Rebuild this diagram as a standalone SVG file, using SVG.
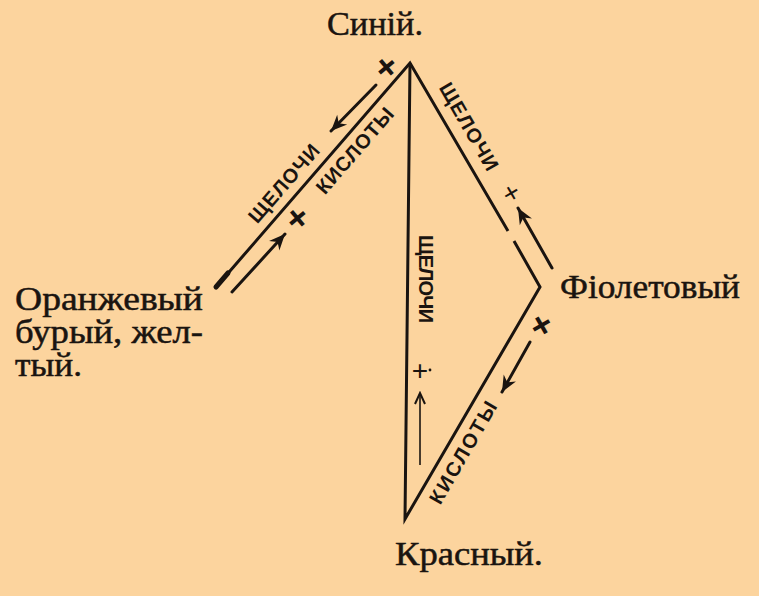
<svg xmlns="http://www.w3.org/2000/svg" width="759" height="596" viewBox="0 0 759 596">
<style>
.lbl{font-family:"Liberation Serif","DejaVu Serif",serif;font-size:33px;fill:#1a1410;stroke:#1a1410;stroke-width:0.5}
.rot{font-family:"Liberation Sans","DejaVu Sans",sans-serif;font-size:20px;font-weight:bold;fill:#1a1410;text-anchor:middle}
.plus{font-family:"Liberation Sans","DejaVu Sans",sans-serif;font-size:36px;font-weight:bold;fill:#1a1410;text-anchor:middle;dominant-baseline:central}
.plusthin{font-family:"Liberation Sans","DejaVu Sans",sans-serif;font-size:28px;fill:#1a1410;text-anchor:middle;dominant-baseline:central}
.edge{fill:none;stroke:#1a1410;stroke-width:3;stroke-linejoin:miter;stroke-miterlimit:10}
.arr{fill:none;stroke:#1a1410;stroke-width:3;stroke-linecap:round;marker-end:url(#head)}
.arrthin{fill:none;stroke:#1a1410;stroke-width:1.6;marker-end:url(#headthin)}
</style>
<defs>
<marker id="head" viewBox="-1 -8 19 16" refX="16" refY="0" markerWidth="19" markerHeight="16" markerUnits="userSpaceOnUse" orient="auto">
<path d="M0,-7 L16,0 L0,7 L5,0 Z" fill="#1a1410"/>
</marker>
<marker id="headthin" viewBox="-1 -7 14 14" refX="11" refY="0" markerWidth="14" markerHeight="14" markerUnits="userSpaceOnUse" orient="auto">
<path d="M0,-5 L11,0 L0,5" fill="none" stroke="#1a1410" stroke-width="2"/>
</marker>
</defs>
<rect width="759" height="596" fill="#FCD49E"/>
<g id="connectors">
<path class="edge" d="M217,286 L410,63 L508,231"/>
<path class="edge" d="M514,241 L540,287 L405,519 L410,63"/>
<line x1="216" y1="287" x2="228" y2="273" stroke="#1a1410" stroke-width="5" stroke-linecap="round"/>
<line class="arr" x1="376" y1="85" x2="331" y2="131"/>
<line class="arr" x1="232" y1="292" x2="285" y2="234"/>
<line class="arr" x1="552" y1="268" x2="518" y2="208"/>
<line class="arr" x1="530" y1="342" x2="502" y2="392"/>
<line class="arrthin" x1="420" y1="465" x2="420" y2="393"/>
<text class="rot" transform="translate(289,188) rotate(-49)" textLength="97" lengthAdjust="spacing">ЩЕЛОЧИ</text>
<text class="rot" transform="translate(360,155) rotate(-49)" textLength="107" lengthAdjust="spacing">КИСЛОТЫ</text>
<text class="rot" transform="translate(463,130) rotate(60)" textLength="98" lengthAdjust="spacing">ЩЕЛОЧИ</text>
<text class="rot" transform="translate(419,279) rotate(90)" textLength="88" lengthAdjust="spacing">ЩЕЛОЧИ</text>
<text class="rot" transform="translate(469,456) rotate(-60)" textLength="115" lengthAdjust="spacing">КИСЛОТЫ</text>
<text class="plus" transform="translate(386,67) rotate(-40)">+</text>
<text class="plus" transform="translate(297,218) rotate(-40)">+</text>
<text class="plus" transform="translate(541,325) rotate(-30)">+</text>
<text class="plusthin" transform="translate(511,193) rotate(-30)">+</text>
<text class="plusthin" transform="translate(420,370)">+</text>
<circle cx="430" cy="370" r="1.4" fill="#1a1410"/>
</g>
<g id="sinii">
<text class="lbl" x="327" y="35" textLength="96" lengthAdjust="spacingAndGlyphs">Синій.</text>
</g>
<g id="oranzhevyi">
<text class="lbl" x="15" y="310" textLength="188" lengthAdjust="spacingAndGlyphs">Оранжевый</text>
<text class="lbl" x="15" y="343" textLength="188" lengthAdjust="spacingAndGlyphs">бурый, жел-</text>
<text class="lbl" x="15" y="376" textLength="67" lengthAdjust="spacingAndGlyphs">тый.</text>
</g>
<g id="fioletovyi">
<text class="lbl" x="560" y="298" textLength="180" lengthAdjust="spacingAndGlyphs">Фіолетовый</text>
</g>
<g id="krasnyi">
<text class="lbl" x="395" y="565" textLength="148" lengthAdjust="spacingAndGlyphs">Красный.</text>
</g>
</svg>
